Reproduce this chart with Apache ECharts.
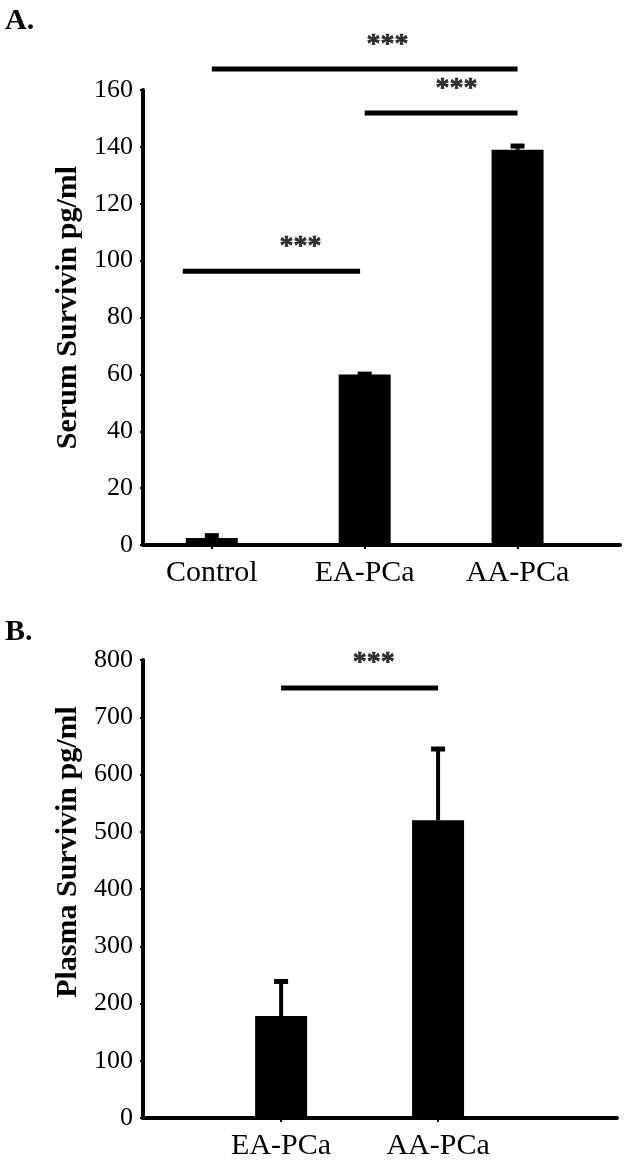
<!DOCTYPE html>
<html>
<head>
<meta charset="utf-8">
<script src="https://cdn.jsdelivr.net/npm/echarts@6/dist/echarts.min.js"></script>
<style>
  html, body { margin: 0; padding: 0; background: #fff; }
  #chart { width: 625px; height: 1163px; }
</style>
</head>
<body>
<div id="chart"></div>
<script>
// panel A - serum
const groupsA = ['Control', 'EA-PCa', 'AA-PCa'];
const serumMean = [2.5, 60, 139];
const serumErr = [1.5, 0.8, 2];
// [from, to, y] in data units, and star positions [x, y]
const sigLinesA = [[1, 3, 167.4], [2, 3, 151.9], [0.81, 1.97, 96.3]];
const sigStarsA = [[2.15, 175.8], [2.6, 160.3], [1.58, 104.8]];

// panel B - plasma
const groupsB = ['EA-PCa', 'AA-PCa'];
const plasmaMean = [178, 520];
const plasmaErr = [64, 128];
const sigLinesB = [[1, 2, 751]];
const sigStarsB = [[1.59, 795]];

const serif = 'Liberation Serif';

const errBar = (grid) => ({
  type: 'custom',
  xAxisIndex: grid,
  yAxisIndex: grid,
  clip: false,
  renderItem: (params, api) => {
    const x = api.value(0), m = api.value(1), e = api.value(2);
    const base = api.coord([x, m]);
    const top = api.coord([x, m + e]);
    return {
      type: 'group',
      children: [
        { type: 'line', shape: { x1: base[0], y1: base[1], x2: top[0], y2: top[1] + 2 }, style: { stroke: '#000', lineWidth: 4 } },
        { type: 'line', shape: { x1: top[0] - 7, y1: top[1] + 2, x2: top[0] + 7, y2: top[1] + 2 }, style: { stroke: '#000', lineWidth: 5 } }
      ]
    };
  }
});

const lineSeries = (lines, grid) => lines.map((l) => ({
  type: 'line',
  xAxisIndex: grid,
  yAxisIndex: grid,
  clip: false,
  symbol: 'none',
  silent: true,
  lineStyle: { color: '#000', width: 5 },
  data: [[l[0], l[2]], [l[1], l[2]]]
}));

const starSeries = (stars, grid) => ({
  type: 'scatter',
  xAxisIndex: grid,
  yAxisIndex: grid,
  clip: false,
  symbolSize: 0,
  silent: true,
  label: {
    show: true,
    position: 'inside',
    formatter: '***',
    color: '#000',
    fontFamily: serif,
    fontWeight: 'bold',
    fontSize: 28,
    textBorderColor: '#000',
    textBorderWidth: 0.6
  },
  data: stars
});

const xAxisBase = (min, max, names) => ({
  type: 'value',
  min: min,
  max: max,
  splitLine: { show: false },
  axisLine: { lineStyle: { color: '#000', width: 4 } },
  axisTick: { customValues: names.map((_, i) => i + 1), length: 4, lineStyle: { color: '#000', width: 2 } },
  axisLabel: {
    customValues: names.map((_, i) => i + 1),
    formatter: (v) => names[Math.round(v) - 1] || '',
    color: '#000',
    fontFamily: serif,
    fontSize: 30,
    margin: 13
  }
});

const yAxisBase = (max, interval, name, shift) => ({
  type: 'value',
  min: 0,
  max: max,
  interval: interval,
  name: name,
  nameLocation: 'middle',
  nameGap: 57,
  nameTextStyle: { color: '#000', fontFamily: serif, fontWeight: 'bold', fontSize: 30, padding: [0, 0, 0, shift] },
  splitLine: { show: false },
  axisLine: { show: true, lineStyle: { color: '#000', width: 4 } },
  axisTick: { show: true, length: 3, lineStyle: { color: '#000', width: 2 } },
  axisLabel: { color: '#000', fontFamily: serif, fontSize: 26, margin: 10 }
});

const chart = echarts.init(document.getElementById('chart'));
chart.setOption({
  animation: false,
  backgroundColor: '#fff',
  graphic: [
    { type: 'text', left: 5, top: 6, style: { text: 'A.', fontFamily: serif, fontWeight: 'bold', fontSize: 30, fill: '#000' } },
    { type: 'text', left: 5, top: 617, style: { text: 'B.', fontFamily: serif, fontWeight: 'bold', fontSize: 30, fill: '#000' } }
  ],
  grid: [
    { left: 143, right: 5, top: 90, height: 455 },
    { left: 143, right: 8, top: 660, height: 458 }
  ],
  xAxis: [
    Object.assign(xAxisBase(0.55, 3.67, groupsA), { gridIndex: 0 }),
    Object.assign(xAxisBase(0.12, 3.14, groupsB), { gridIndex: 1 })
  ],
  yAxis: [
    Object.assign(yAxisBase(160, 20, 'Serum Survivin pg/ml', 20), { gridIndex: 0 }),
    Object.assign(yAxisBase(800, 100, 'Plasma Survivin pg/ml', 74), { gridIndex: 1 })
  ],
  series: [
    {
      type: 'bar',
      xAxisIndex: 0,
      yAxisIndex: 0,
      barWidth: 52,
      itemStyle: { color: '#000' },
      data: serumMean.map((v, i) => [i + 1, v])
    },
    Object.assign(errBar(0), { data: serumMean.map((v, i) => [i + 1, v, serumErr[i]]) }),
    ...lineSeries(sigLinesA, 0),
    starSeries(sigStarsA, 0),
    {
      type: 'bar',
      xAxisIndex: 1,
      yAxisIndex: 1,
      barWidth: 52,
      itemStyle: { color: '#000' },
      data: plasmaMean.map((v, i) => [i + 1, v])
    },
    Object.assign(errBar(1), { data: plasmaMean.map((v, i) => [i + 1, v, plasmaErr[i]]) }),
    ...lineSeries(sigLinesB, 1),
    starSeries(sigStarsB, 1)
  ]
});
</script>
</body>
</html>
